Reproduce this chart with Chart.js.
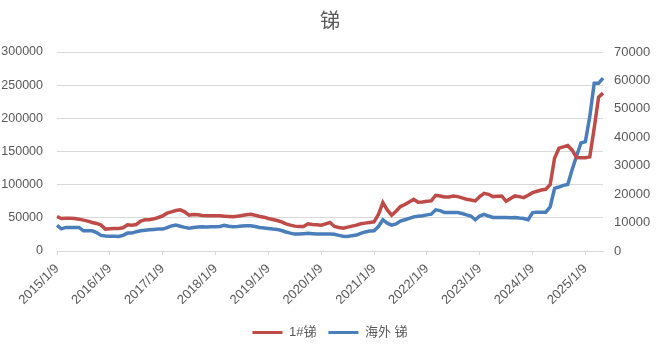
<!DOCTYPE html>
<html>
<head>
<meta charset="utf-8">
<script src="https://cdn.jsdelivr.net/npm/chart.js@4.4.1/dist/chart.umd.min.js"></script>
<style>
html,body{margin:0;padding:0;background:#fff;}
#wrap{width:660px;height:359px;position:relative;}
</style>
</head>
<body>
<div id="wrap"><canvas id="c" width="660" height="359"></canvas></div>
<script>
// Monthly categories (2015/1 .. 2025/5)
const categories = [
"2015/1/9","2015/2/9","2015/3/9","2015/4/9","2015/5/9","2015/6/9","2015/7/9","2015/8/9","2015/9/9","2015/10/9","2015/11/9","2015/12/9",
"2016/1/9","2016/2/9","2016/3/9","2016/4/9","2016/5/9","2016/6/9","2016/7/9","2016/8/9","2016/9/9","2016/10/9","2016/11/9","2016/12/9",
"2017/1/9","2017/2/9","2017/3/9","2017/4/9","2017/5/9","2017/6/9","2017/7/9","2017/8/9","2017/9/9","2017/10/9","2017/11/9","2017/12/9",
"2018/1/9","2018/2/9","2018/3/9","2018/4/9","2018/5/9","2018/6/9","2018/7/9","2018/8/9","2018/9/9","2018/10/9","2018/11/9","2018/12/9",
"2019/1/9","2019/2/9","2019/3/9","2019/4/9","2019/5/9","2019/6/9","2019/7/9","2019/8/9","2019/9/9","2019/10/9","2019/11/9","2019/12/9",
"2020/1/9","2020/2/9","2020/3/9","2020/4/9","2020/5/9","2020/6/9","2020/7/9","2020/8/9","2020/9/9","2020/10/9","2020/11/9","2020/12/9",
"2021/1/9","2021/2/9","2021/3/9","2021/4/9","2021/5/9","2021/6/9","2021/7/9","2021/8/9","2021/9/9","2021/10/9","2021/11/9","2021/12/9",
"2022/1/9","2022/2/9","2022/3/9","2022/4/9","2022/5/9","2022/6/9","2022/7/9","2022/8/9","2022/9/9","2022/10/9","2022/11/9","2022/12/9",
"2023/1/9","2023/2/9","2023/3/9","2023/4/9","2023/5/9","2023/6/9","2023/7/9","2023/8/9","2023/9/9","2023/10/9","2023/11/9","2023/12/9",
"2024/1/9","2024/2/9","2024/3/9","2024/4/9","2024/5/9","2024/6/9","2024/7/9","2024/8/9","2024/9/9","2024/10/9","2024/11/9","2024/12/9",
"2025/1/9","2025/2/9","2025/3/9","2025/4/9","2025/5/9"
];

const tickLabels = ["2015/1/9","2016/1/9","2017/1/9","2018/1/9","2019/1/9","2020/1/9","2021/1/9","2022/1/9","2023/1/9","2024/1/9","2025/1/9"];

// 1#锑 (left axis)
const antimonyCN = [
52000,49000,49500,49500,49000,48000,46500,45000,43000,41500,39000,33000,
33500,34000,34000,35000,39500,39000,40000,45000,47000,47000,48500,50500,
53000,57000,59000,61000,62000,59000,54000,55000,54500,53500,53000,53000,
53000,53000,52500,52000,51500,52500,53500,54500,55500,54000,52000,51000,
49000,47500,46000,44000,41000,39000,37500,37000,37000,41000,40000,39500,
39000,41000,43000,37000,35500,34500,36000,37500,39000,41000,42000,43000,
44000,55000,73000,62000,54000,60000,67000,70000,74000,78000,73500,74000,
75000,75500,84000,83000,81500,81500,83000,82000,80000,78000,77000,75500,
82000,87000,85500,82000,82500,83000,75000,79000,83000,82000,80500,84000,
88000,90000,92000,93000,100000,140000,155000,157000,159000,152000,141000,140500,
140500,142000,185000,232000,238000
];

// 海外 锑 (right axis)
const antimonyOverseas = [
9000,7800,8300,8300,8300,8300,7100,7100,7100,6500,5500,5300,
5200,5200,5100,5500,6300,6300,6800,7100,7300,7450,7600,7700,
7700,8200,8800,9100,8700,8300,8050,8300,8400,8500,8400,8500,
8500,8600,9000,8700,8500,8600,8800,8900,8870,8600,8300,8100,
7900,7700,7600,7200,6700,6300,5950,6000,6100,6200,6100,6000,
5950,6000,5950,5900,5500,5200,5100,5400,5600,6200,6700,7000,
7100,8600,11000,9800,9100,9500,10500,11000,11500,12000,12200,12400,
12700,12950,14500,14200,13500,13500,13500,13500,13200,12700,12300,11000,
12300,12900,12300,11800,11800,11800,11800,11700,11800,11600,11450,11000,
13500,13600,13600,13650,15500,22000,22500,23100,23400,28700,33400,38000,
38500,47350,59000,59000,60800
];

const leftTicks = [0, 50000, 100000, 150000, 200000, 250000, 300000];
const rightTicks = [0, 10000, 20000, 30000, 40000, 50000, 60000, 70000];

const gray = '#595959';
const fontFamily = '"Liberation Sans", "Noto Sans CJK SC", sans-serif';

new Chart(document.getElementById('c'), {
  type: 'line',
  data: {
    labels: categories,
    datasets: [
      {
        label: '1#锑',
        data: antimonyCN,
        yAxisID: 'y',
        borderColor: '#be4b48',
        backgroundColor: '#be4b48',
        borderWidth: 3.5,
        pointRadius: 0,
        tension: 0
      },
      {
        label: '海外 锑',
        data: antimonyOverseas,
        yAxisID: 'y1',
        borderColor: '#4a7ebb',
        backgroundColor: '#4a7ebb',
        borderWidth: 3.5,
        pointRadius: 0,
        tension: 0
      }
    ]
  },
  options: {
    responsive: false,
    animation: false,
    layout: { padding: { left: 0, right: 0, top: 0, bottom: 10 } },
    plugins: {
      title: {
        display: true,
        text: '锑',
        color: gray,
        font: { family: '"Noto Sans CJK SC", sans-serif', size: 20, weight: 'normal' },
        padding: { top: 8, bottom: 20 }
      },
      legend: {
        position: 'bottom',
        labels: {
          color: gray,
          font: { family: fontFamily, size: 13 },
          boxWidth: 30,
          boxHeight: 3,
          padding: 12,
          generateLabels: (chart) => {
            const items = Chart.defaults.plugins.legend.labels.generateLabels(chart);
            return items.map(it => Object.assign(it, { lineWidth: 0 }));
          }
        }
      },
      tooltip: { enabled: false }
    },
    scales: {
      x: {
        type: 'category',
        offset: false,
        afterBuildTicks: (s) => {
          s.ticks = s.ticks.filter(t => tickLabels.includes(categories[t.value]));
        },
        afterFit: (s) => { s.height = 63; },
        grid: {
          display: true,
          drawOnChartArea: false,
          drawTicks: true,
          tickLength: 4,
          color: '#d9d9d9'
        },
        border: { display: true, color: '#d9d9d9' },
        ticks: {
          autoSkip: false,
          maxRotation: 45,
          minRotation: 45,
          color: gray,
          padding: 6,
          font: { family: fontFamily, size: 13 },
          callback: function (v) { return categories[v]; }
        }
      },
      y: {
        position: 'left',
        min: 0,
        max: 300000,
        afterBuildTicks: (s) => { s.ticks = leftTicks.map(v => ({ value: v })); },
        afterFit: (s) => { s.width = 57; },
        grid: { color: '#d9d9d9', drawTicks: false },
        border: { display: false },
        ticks: {
          color: gray,
          padding: 14,
          font: { family: fontFamily, size: 12.5 },
          callback: (v) => String(v)
        }
      },
      y1: {
        position: 'right',
        min: 0,
        max: 70000,
        afterBuildTicks: (s) => { s.ticks = rightTicks.map(v => ({ value: v })); },
        afterFit: (s) => { s.width = 57; },
        grid: { display: false, drawTicks: false },
        border: { display: false },
        ticks: {
          color: gray,
          padding: 11,
          font: { family: fontFamily, size: 13 },
          callback: (v) => String(v)
        }
      }
    }
  }
});
</script>
</body>
</html>
